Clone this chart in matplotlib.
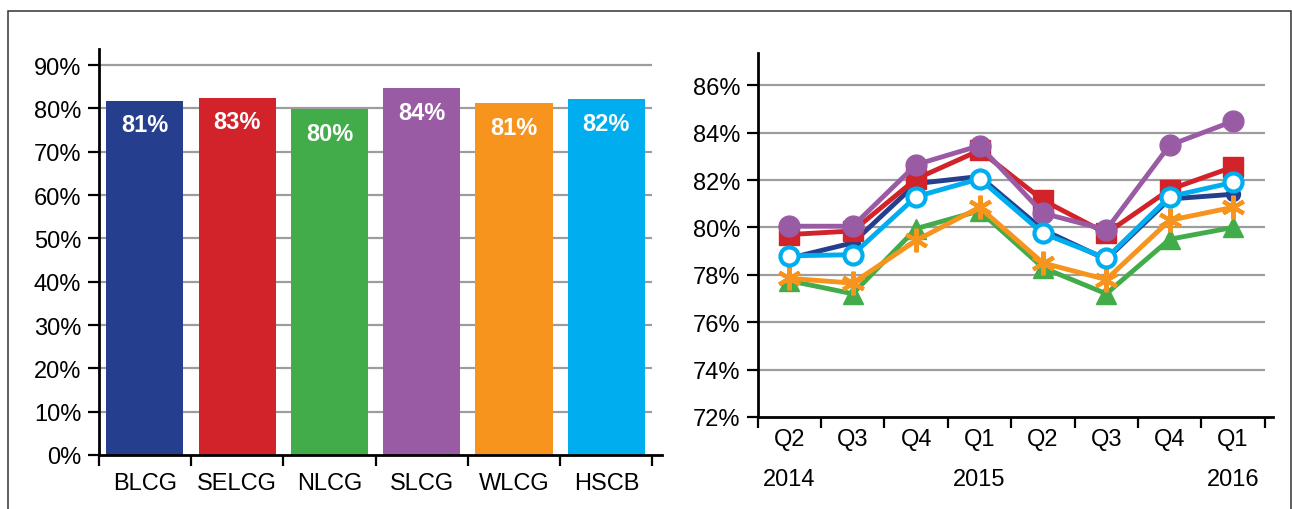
import matplotlib
matplotlib.use("Agg")
import matplotlib.pyplot as plt
from matplotlib.patches import Rectangle

plt.rcParams['font.family'] = ['Liberation Sans', 'DejaVu Sans']

# left panel: overall rate by group
groups = ['BLCG', 'SELCG', 'NLCG', 'SLCG', 'WLCG', 'HSCB']
overall = [81.8, 82.5, 79.9, 84.7, 81.3, 82.2]
overall_labels = ['81%', '83%', '80%', '84%', '81%', '82%']
colors = ['#253F8E', '#D2232A', '#43AC4A', '#9A5BA5', '#F7941D', '#00AEEF']

# right panel: quarterly trend
quarters = ['Q2', 'Q3', 'Q4', 'Q1', 'Q2', 'Q3', 'Q4', 'Q1']
years = ['2014', '2015', '2016']
year_pos = [0, 3, 7]
blcg = [78.7, 79.35, 81.85, 82.15, 79.9, 78.65, 81.2, 81.4]
selcg = [79.7, 79.85, 82.05, 83.25, 81.15, 79.75, 81.6, 82.55]
nlcg = [77.75, 77.2, 79.95, 80.7, 78.3, 77.2, 79.5, 80.0]
slcg = [80.05, 80.05, 82.65, 83.45, 80.6, 79.9, 83.47, 84.48]
wlcg = [77.85, 77.65, 79.45, 80.85, 78.5, 77.8, 80.3, 80.85]
hscb = [78.8, 78.85, 81.3, 82.05, 79.75, 78.7, 81.3, 81.9]

fig = plt.figure(figsize=(12.92, 5.10), dpi=100)
grid_col = '#9D9D9D'
fs = 17

# ---- left bars
ax1 = fig.add_axes([98.7 / 1292, 54 / 510, 563 / 1292, 406 / 510])
xs = range(len(groups))
ax1.bar(xs, overall, width=0.835, color=colors, zorder=2)
for x, v, lab in zip(xs, overall, overall_labels):
    ax1.annotate(lab, (x, v), xytext=(0, -17.5), textcoords='offset points',
                 ha='center', va='center', color='white', fontsize=fs,
                 fontweight='bold', zorder=3)
ax1.hlines(range(10, 100, 10), -0.5, 5.5, color=grid_col, lw=1.6, zorder=1)
ax1.set_xlim(-0.5, 5.6)
ax1.set_ylim(0, 93.7)
ax1.set_yticks(range(0, 100, 10))
ax1.set_yticklabels([f'{v}%' for v in range(0, 100, 10)])
ax1.set_xticks(list(xs))
ax1.set_xticklabels(groups)
ax1.set_xticks([i - 0.5 for i in range(7)], minor=True)
ax1.tick_params(axis='x', which='major', length=0, pad=12, labelsize=fs)
ax1.tick_params(axis='x', which='minor', length=8, width=1.6, direction='out')
ax1.tick_params(axis='y', length=8, width=1.6, pad=4.5, labelsize=fs)

# ---- right lines
ax2 = fig.add_axes([757.7 / 1292, 92 / 510, 515.3 / 1292, 364 / 510])
qx = range(len(quarters))
lw = 3.5
ax2.plot(qx, blcg, color=colors[0], lw=lw, marker='o', ms=10, zorder=3)
ax2.plot(qx, selcg, color=colors[1], lw=lw, marker='s', ms=15, zorder=4)
ax2.plot(qx, nlcg, color=colors[2], lw=lw, marker='^', ms=14, zorder=5)
ax2.plot(qx, slcg, color=colors[3], lw=lw, marker='o', ms=15, zorder=6)
ax2.plot(qx, wlcg, color=colors[4], lw=lw, marker=(6, 2, 0), ms=17,
         mew=3, zorder=7)
ax2.plot(qx, hscb, color=colors[5], lw=lw, marker='o', ms=13, mew=3,
         mfc='white', zorder=8)
ax2.hlines(range(74, 88, 2), -0.5, 7.5, color=grid_col, lw=1.6, zorder=1)
ax2.set_xlim(-0.5, 7.63)
ax2.set_ylim(72, 87.36)
ax2.set_yticks(range(72, 88, 2))
ax2.set_yticklabels([f'{v}%' for v in range(72, 88, 2)])
ax2.set_xticks(list(qx))
ax2.set_xticklabels(quarters)
ax2.set_xticks([i - 0.5 for i in range(9)], minor=True)
ax2.tick_params(axis='x', which='major', length=0, pad=8, labelsize=fs)
ax2.tick_params(axis='x', which='minor', length=8, width=1.6, direction='out')
ax2.tick_params(axis='y', length=8, width=1.6, pad=4.5, labelsize=fs)
for p, y in zip(year_pos, years):
    ax2.text(p, -0.17, y, transform=ax2.get_xaxis_transform(), ha='center',
             va='center', fontsize=fs)

for ax in (ax1, ax2):
    for s in ('top', 'right'):
        ax.spines[s].set_visible(False)
    for s in ('left', 'bottom'):
        ax.spines[s].set_linewidth(2)
    ax.set_facecolor('none')

# outer frame
fig.patches.append(Rectangle((8 / 1292, -0.1), 1282.5 / 1292, 0.1 + 498 / 510,
                             transform=fig.transFigure, fill=False,
                             edgecolor='#333333', lw=1.1))

fig.savefig('out.png', dpi=100)
